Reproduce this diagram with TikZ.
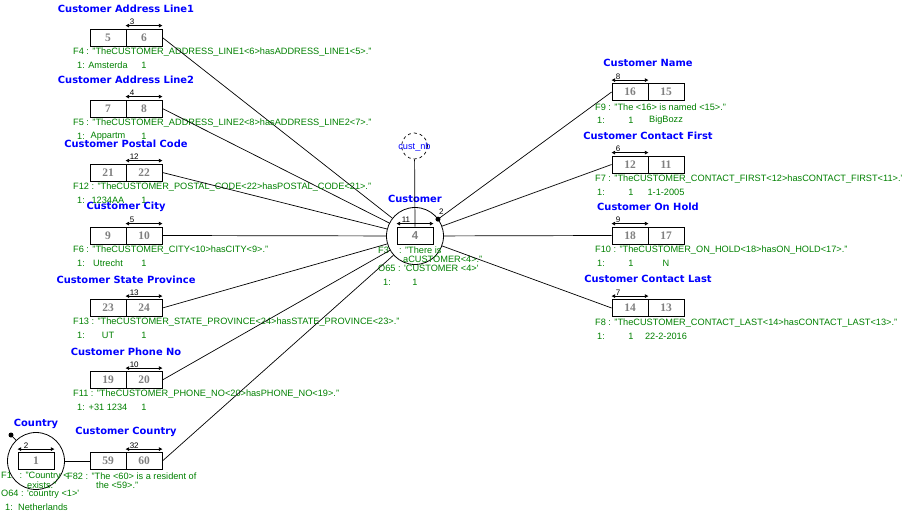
\documentclass[tikz,border=0pt]{standalone}
\usepackage{fontspec}
\setmainfont{Liberation Sans}
\newfontfamily\titlefont{DejaVu Sans}
\newfontfamily\numfont{Liberation Serif}
\usetikzlibrary{arrows.meta,calc}
\definecolor{ormblue}{RGB}{0,0,255}
\definecolor{ormgreen}{RGB}{0,128,0}
\definecolor{ormgray}{RGB}{128,128,128}
\tikzset{
  ttl/.style={text=ormblue, font=\titlefont\bfseries\fontsize{9.9}{10}\selectfont, inner sep=0},
  rolebox/.style={draw, line width=0.8pt, minimum width=36pt, minimum height=17pt, inner sep=0, text=ormgray, font=\numfont\bfseries\fontsize{11.5}{12}\selectfont},
  ftext/.style={text=ormgreen, font=\fontsize{9.2}{10}\selectfont, inner sep=0, anchor=west},
  fval/.style={text=ormgreen, font=\fontsize{9.2}{10}\selectfont, inner sep=0},
  barlbl/.style={font=\fontsize{8}{8}\selectfont, inner sep=0, anchor=west},
  ubar/.style={line width=0.8pt, {Triangle[length=3.5pt,width=3.5pt]}-{Triangle[length=3.5pt,width=3.5pt]}},
  conn/.style={line width=0.7pt},
  entity/.style={draw, circle, line width=0.8pt, minimum size=57pt, inner sep=0},
}
\newcommand{\leftfact}[9]{%
  \node[rolebox] (#1a) at (108,#2) {#3};
  \node[rolebox] (#1b) at (144,#2) {#4};
  \draw[ubar] ($(#1b.north west)+(0,-3)$) -- ($(#1b.north east)+(0,-3)$);
  \node[barlbl] (#1u) at ($(#1b.north west)+(4,-6.5)$) {#5};
  \node[ttl] (#1t) at (126,#2-28.5) {#6};
  \node[ftext] (#1f) at (73,#2+14.5) {#7};
  \node[ftext] (#1n) at (77,#2+27.5) {1:};
  \node[fval] (#1v) at (108,#2+27.5) {#8};
  \node[fval] (#1c) at (144,#2+27.5) {#9};
  \draw[conn] (#1b.east) -- (cust);
}
\newcommand{\rightfact}[9]{%
  \node[rolebox] (#1a) at (630,#2) {#3};
  \node[rolebox] (#1b) at (666,#2) {#4};
  \draw[ubar] ($(#1a.north west)+(0,-3)$) -- ($(#1a.north east)+(0,-3)$);
  \node[barlbl] (#1u) at ($(#1a.north west)+(4,-6.5)$) {#5};
  \node[ttl] (#1t) at (648,#2-29) {#6};
  \node[ftext] (#1f) at (595,#2+15) {#7};
  \node[ftext] (#1n) at (597,#2+28) {1:};
  \node[fval] (#1c) at (631,#2+28) {1};
  \node[fval] (#1v) at (666,#2+28) {#9};
  \draw[conn] (#1a.west) -- (cust);
}
\begin{document}
\begin{tikzpicture}[x=1pt,y=-1pt]
\useasboundingbox (0,0) rectangle (902,519);

% Customer entity
\node[entity] (cust) at (415,236) {};
\node[rolebox, font=\fontsize{11.5}{12}\selectfont\bfseries] (r4) at (415,235.5) {4};
\draw[ubar] ($(r4.north west)+(0,-3)$) -- ($(r4.north east)+(0,-3)$);
\node[barlbl] (r4u) at ($(r4.north west)+(5,-6.5)$) {11};
\node[ttl] (custt) at (415,199) {Customer};
\node[draw, circle, dashed, line width=0.7pt, minimum size=26pt, inner sep=0] (nb) at (414.5,146) {};
\node[text=ormblue, font=\fontsize{9.2}{10}\selectfont, inner sep=0] (nbt) at (414.5,147) {cust\_nb};
\draw[conn] (nb) -- (r4.north);
\node[ftext] (f3a) at (378,250) {F3\ \ \ \ : "There is};
\node[ftext] (f3b) at (403,259) {aCUSTOMER<4>."};
\node[ftext] (o65) at (378,268) {O65 : \textquotesingle CUSTOMER <4>\textquotesingle};
\node[ftext] (c1n) at (383,282) {1:};
\node[fval] (c1v) at (415,282) {1};

% Left fact types
\leftfact{a1}{37.5}{5}{6}{3}{Customer Address Line1}{F4 : "TheCUSTOMER\_ADDRESS\_LINE1<6>hasADDRESS\_LINE1<5>."}{Amsterda}{1}
\leftfact{a2}{108.5}{7}{8}{4}{Customer Address Line2}{F5 : "TheCUSTOMER\_ADDRESS\_LINE2<8>hasADDRESS\_LINE2<7>."}{Appartm}{1}
\leftfact{pc}{172.5}{21}{22}{12}{Customer Postal Code}{F12 : "TheCUSTOMER\_POSTAL\_CODE<22>hasPOSTAL\_CODE<21>."}{1234AA}{1}
\leftfact{ci}{235.5}{9}{10}{5}{Customer City}{F6 : "TheCUSTOMER\_CITY<10>hasCITY<9>."}{Utrecht}{1}
\leftfact{sp}{308}{23}{24}{13}{Customer State Province}{F13 : "TheCUSTOMER\_STATE\_PROVINCE<24>hasSTATE\_PROVINCE<23>."}{UT}{1}
\leftfact{ph}{380}{19}{20}{10}{Customer Phone No}{F11 : "TheCUSTOMER\_PHONE\_NO<20>hasPHONE\_NO<19>."}{+31 1234}{1}

% Customer Country
\node[rolebox] (r59) at (108,461) {59};
\node[rolebox] (r60) at (144,461) {60};
\draw[ubar] ($(r60.north west)+(0,-3)$) -- ($(r60.north east)+(0,-3)$);
\node[barlbl] (r60u) at ($(r60.north west)+(4,-6.5)$) {32};
\node[ttl] (cct) at (126,432) {Customer Country};
\node[ftext] (f82a) at (67,476) {F82 : "The <60> is a resident of};
\node[ftext] (f82b) at (96,485) {the <59>."};
\draw[conn] (r60.east) -- (cust);

% Country entity
\node[entity] (country) at (36,461) {};
\node[rolebox] (r1) at (36,461) {1};
\draw[ubar] ($(r1.north west)+(0,-3)$) -- ($(r1.north east)+(0,-3)$);
\node[barlbl] (r1u) at ($(r1.north west)+(6,-6.5)$) {2};
\node[ttl] (countryt) at (36,424) {Country};
\coordinate (cdot) at (11,435);
\fill (cdot) circle (2.5);
\draw[conn] (cdot) -- (country);
\draw[conn] (r59.west) -- (country);
\node[ftext] (f1a) at (1,476) {F1\ \ \ : "Country <};
\node[ftext] (f1b) at (27,485) {exists."};
\node[ftext] (o64) at (1,494) {O64 : \textquotesingle country <1>\textquotesingle};
\node[ftext] (ctn) at (5,507) {1:};
\node[fval] (ctv) at (43,507) {Netherlands};

% Right fact types
\rightfact{cn}{92}{16}{15}{8}{Customer Name}{F9 : "The <16> is named <15>."}{1}{BigBozz}
\rightfact{cf}{164.5}{12}{11}{6}{Customer Contact First}{F7 : "TheCUSTOMER\_CONTACT\_FIRST<12>hasCONTACT\_FIRST<11>."}{1}{1-1-2005}
\rightfact{oh}{235.5}{18}{17}{9}{Customer On Hold}{F10 : "TheCUSTOMER\_ON\_HOLD<18>hasON\_HOLD<17>."}{1}{N}
\rightfact{cl}{308}{14}{13}{7}{Customer Contact Last}{F8 : "TheCUSTOMER\_CONTACT\_LAST<14>hasCONTACT\_LAST<13>."}{1}{22-2-2016}

% mandatory dot on Customer
\fill ($(cust)!28.5pt!(cna.west)$) circle (2.5);
\node[barlbl] (dot2) at (439,212) {2};
\end{tikzpicture}
\end{document}
